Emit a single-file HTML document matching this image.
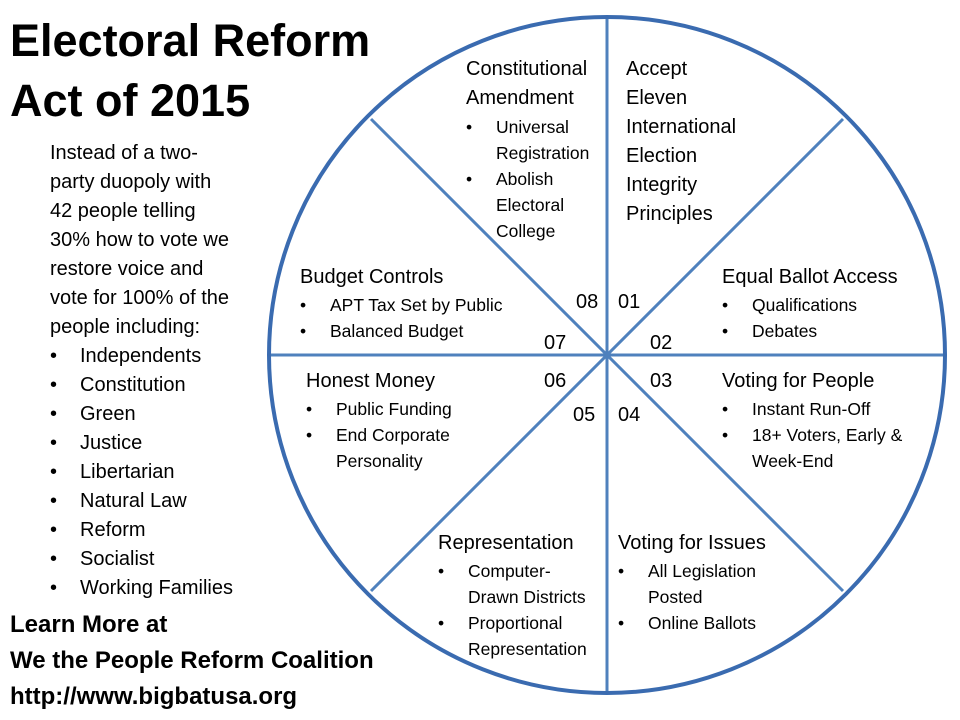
<!DOCTYPE html>
<html><head><meta charset="utf-8"><style>
body{margin:0;width:960px;height:720px;background:#fff;position:relative;overflow:hidden;font-family:"Liberation Sans",sans-serif;color:#000}
.a{position:absolute;white-space:nowrap}
.t{font-weight:bold;font-size:45px;line-height:60px}
.b{font-size:20px;line-height:29px}
.h{font-size:20px;line-height:29px}
.s{font-size:17.5px;line-height:26px}
.s div{position:relative;padding-left:30px}
.s div:before{content:"•";position:absolute;left:0}
.l div{position:relative;padding-left:30px}
.l div:before{content:"•";position:absolute;left:0}
.f{font-weight:bold;font-size:24px;line-height:36px}
</style></head><body>
<svg class="a" style="left:0;top:0" width="960" height="720">
<g stroke="#4f81bd" stroke-width="3">
<line x1="607" y1="17" x2="607" y2="693"/>
<line x1="269" y1="355" x2="945" y2="355"/>
<line x1="371" y1="119" x2="843" y2="591"/>
<line x1="843" y1="119" x2="371" y2="591"/>
</g>
<circle cx="607" cy="355" r="338" fill="none" stroke="#3a6bb0" stroke-width="4"/>
</svg>
<div class="a t" style="left:10px;top:11px">Electoral Reform<br>Act of 2015</div>
<div class="a b" style="left:50px;top:139px">Instead of a two-<br>party duopoly with<br>42 people telling<br>30% how to vote we<br>restore voice and<br>vote for 100% of the<br>people including:</div>
<div class="a b l" style="left:50px;top:342px"><div>Independents</div><div>Constitution</div><div>Green</div><div>Justice</div><div>Libertarian</div><div>Natural Law</div><div>Reform</div><div>Socialist</div><div>Working Families</div></div>
<div class="a f" style="left:10px;top:607px">Learn More at<br>We the People Reform Coalition<br>http://www.bigbatusa.org</div>

<div class="a h" style="left:466px;top:55px">Constitutional<br>Amendment</div>
<div class="a s" style="left:466px;top:114px"><div>Universal<br>Registration</div><div>Abolish<br>Electoral<br>College</div></div>

<div class="a h" style="left:626px;top:55px">Accept<br>Eleven<br>International<br>Election<br>Integrity<br>Principles</div>

<div class="a h" style="left:722px;top:263px">Equal Ballot Access</div>
<div class="a s" style="left:722px;top:292px"><div>Qualifications</div><div>Debates</div></div>

<div class="a h" style="left:722px;top:367px">Voting for People</div>
<div class="a s" style="left:722px;top:396px"><div>Instant Run-Off</div><div>18+ Voters, Early &amp;<br>Week-End</div></div>

<div class="a h" style="left:618px;top:529px">Voting for Issues</div>
<div class="a s" style="left:618px;top:558px"><div>All Legislation<br>Posted</div><div>Online Ballots</div></div>

<div class="a h" style="left:438px;top:529px">Representation</div>
<div class="a s" style="left:438px;top:558px"><div>Computer-<br>Drawn Districts</div><div>Proportional<br>Representation</div></div>

<div class="a h" style="left:306px;top:367px">Honest Money</div>
<div class="a s" style="left:306px;top:396px"><div>Public Funding</div><div>End Corporate<br>Personality</div></div>

<div class="a h" style="left:300px;top:263px">Budget Controls</div>
<div class="a s" style="left:300px;top:292px"><div>APT Tax Set by Public</div><div>Balanced Budget</div></div>

<div class="a h" style="left:576px;top:288px">08</div>
<div class="a h" style="left:618px;top:288px">01</div>
<div class="a h" style="left:650px;top:329px">02</div>
<div class="a h" style="left:650px;top:367px">03</div>
<div class="a h" style="left:618px;top:401px">04</div>
<div class="a h" style="left:573px;top:401px">05</div>
<div class="a h" style="left:544px;top:367px">06</div>
<div class="a h" style="left:544px;top:329px">07</div>
</body></html>
